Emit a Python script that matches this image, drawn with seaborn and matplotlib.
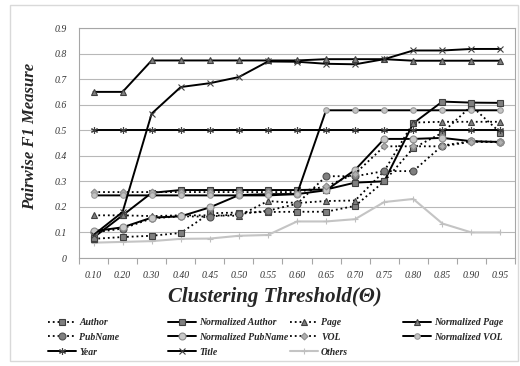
import matplotlib
matplotlib.use("Agg")
import matplotlib.pyplot as plt
from matplotlib.lines import Line2D
from matplotlib.patches import Rectangle
import seaborn as sns
import pandas as pd

thresholds = ["0.10", "0.20", "0.30", "0.40", "0.45", "0.50", "0.55", "0.60",
              "0.65", "0.70", "0.75", "0.80", "0.85", "0.90", "0.95"]

author = [0.075, 0.082, 0.087, 0.098, 0.175, 0.178, 0.180, 0.181, 0.181, 0.204, 0.300, 0.430, 0.490, 0.595, 0.490]
norm_author = [0.080, 0.167, 0.255, 0.266, 0.266, 0.266, 0.266, 0.266, 0.268, 0.295, 0.300, 0.527, 0.612, 0.608, 0.607]
page = [0.167, 0.167, 0.164, 0.167, 0.167, 0.165, 0.223, 0.215, 0.223, 0.225, 0.340, 0.530, 0.533, 0.533, 0.533]
norm_page = [0.650, 0.650, 0.773, 0.773, 0.773, 0.773, 0.773, 0.773, 0.778, 0.778, 0.778, 0.772, 0.772, 0.772, 0.772]
pubname = [0.100, 0.115, 0.155, 0.163, 0.162, 0.172, 0.185, 0.212, 0.320, 0.320, 0.340, 0.340, 0.440, 0.457, 0.454]
norm_pubname = [0.105, 0.120, 0.158, 0.163, 0.198, 0.246, 0.250, 0.250, 0.265, 0.345, 0.466, 0.466, 0.470, 0.457, 0.454]
vol = [0.258, 0.258, 0.258, 0.258, 0.258, 0.258, 0.258, 0.258, 0.280, 0.330, 0.437, 0.437, 0.437, 0.455, 0.453]
norm_vol = [0.245, 0.245, 0.245, 0.245, 0.245, 0.245, 0.245, 0.250, 0.578, 0.578, 0.578, 0.578, 0.578, 0.578, 0.578]
year = [0.500, 0.500, 0.500, 0.500, 0.500, 0.500, 0.500, 0.500, 0.500, 0.500, 0.500, 0.500, 0.500, 0.500, 0.500]
title = [0.090, 0.180, 0.565, 0.669, 0.684, 0.708, 0.769, 0.768, 0.760, 0.758, 0.778, 0.812, 0.812, 0.818, 0.818]
others = [0.060, 0.063, 0.066, 0.075, 0.076, 0.087, 0.090, 0.143, 0.143, 0.152, 0.219, 0.231, 0.135, 0.100, 0.100]

y_ticks = [0, 0.1, 0.2, 0.3, 0.4, 0.5, 0.6, 0.7, 0.8, 0.9]
y_tick_labels = ["0", "0.1", "0.2", "0.3", "0.4", "0.5", "0.6", "0.7", "0.8", "0.9"]

sns.set_theme(style="white")
plt.rcParams['font.family'] = ['Liberation Serif', 'DejaVu Serif']

fig = plt.figure(figsize=(5.2, 3.66), dpi=100)
ax = fig.add_axes([79 / 520, 108 / 366, 436 / 520, 230 / 366])

asterisk = (6, 2, 0)
# name: (values, linestyle, marker, markersize, face, edge, color, lw)
styles = {
    "Others": (others, "-", "+", 4, "#bfbfbf", "#bfbfbf", "#c4c4c4", 1.5),
    "Author": (author, ":", "s", 5, "#808080", "#404040", "#000000", 1.3),
    "Normalized Author": (norm_author, "-", "s", 5, "#808080", "#404040", "#000000", 1.4),
    "Page": (page, ":", "^", 5, "#808080", "#404040", "#000000", 1.3),
    "Normalized Page": (norm_page, "-", "^", 5, "#808080", "#404040", "#000000", 1.4),
    "PubName": (pubname, ":", "o", 5, "#808080", "#505050", "#000000", 1.3),
    "Normalized PubName": (norm_pubname, "-", "o", 5, "#c8c8c8", "#8c8c8c", "#000000", 1.4),
    "VOL": (vol, ":", "D", 3.5, "#b0b0b0", "#8c8c8c", "#000000", 1.3),
    "Normalized VOL": (norm_vol, "-", "o", 4, "#c4c4c4", "#9a9a9a", "#000000", 1.4),
    "Year": (year, "-", asterisk, 5, "#404040", "#404040", "#000000", 1.4),
    "Title": (title, "-", "x", 5, "#404040", "#404040", "#000000", 1.4),
}

xpos = list(range(len(thresholds)))
for name, (vals, ls, mk, ms, mfc, mec, col, lw) in styles.items():
    df = pd.DataFrame({"x": xpos, "y": vals})
    sns.lineplot(data=df, x="x", y="y", ax=ax, color=col, linestyle=ls,
                 marker=mk, markersize=ms, markerfacecolor=mfc,
                 markeredgecolor=mec, markeredgewidth=0.8, linewidth=lw,
                 legend=False)

ax.set_xlim(-0.5, len(thresholds) - 0.5)
ax.set_ylim(0, 0.9)
ax.set_xticks(xpos)
ax.set_xticklabels(thresholds, fontsize=7, style="italic", color="#333333")
ax.set_xticks([i - 0.5 for i in range(len(thresholds) + 1)], minor=True)
ax.tick_params(axis="x", which="major", length=0, pad=9)
ax.tick_params(axis="x", which="minor", length=4, color="#a6a6a6", width=0.8, direction="out", bottom=True)
ax.set_yticks(y_ticks)
ax.set_yticklabels(y_tick_labels, fontsize=7, style="italic", color="#333333")
ax.tick_params(axis="y", length=0, pad=9)
ax.set_xlabel("")
ax.set_ylabel("")
ax.yaxis.grid(True, color="#b8b8b8", linewidth=0.8)
ax.xaxis.grid(False)
ax.set_axisbelow(True)
for sp in ax.spines.values():
    sp.set_color("#a6a6a6")
    sp.set_linewidth(0.8)

fig.text(30 / 520, 1 - 136 / 366, "Pairwise F1 Measure", rotation=90,
         ha="center", va="center", fontsize=12, weight="bold", style="italic")
fig.text(275 / 520, 1 - 297 / 366, "Clustering Threshold(Θ)",
         ha="center", va="center", fontsize=15, weight="bold", style="italic")

def handle(name):
    vals, ls, mk, ms, mfc, mec, col, lw = styles[name]
    return Line2D([], [], color=col, linestyle=ls, marker=mk, markersize=ms,
                  markerfacecolor=mfc, markeredgecolor=mec, markeredgewidth=0.8,
                  linewidth=lw)

columns = [
    (["Author", "PubName", "Year"], 48),
    (["Normalized Author", "Normalized PubName", "Title"], 168),
    (["Page", "VOL", "Others"], 290),
    (["Normalized Page", "Normalized VOL"], 403),
]
for names, x0 in columns:
    fig.legend([handle(n) for n in names], names, loc="upper left",
               bbox_to_anchor=(x0 / 520, 1 - 318 / 366), frameon=False,
               prop={"size": 7, "weight": "bold", "style": "italic"},
               handlelength=2.9, handletextpad=0.3, labelspacing=0.6,
               borderpad=0, borderaxespad=0)

fig.patches.append(Rectangle((10 / 520, 5 / 366), 508 / 520, 356 / 366,
                             transform=fig.transFigure, fill=False,
                             edgecolor="#d9d9d9", linewidth=1))

fig.savefig("out.png", dpi=100)
